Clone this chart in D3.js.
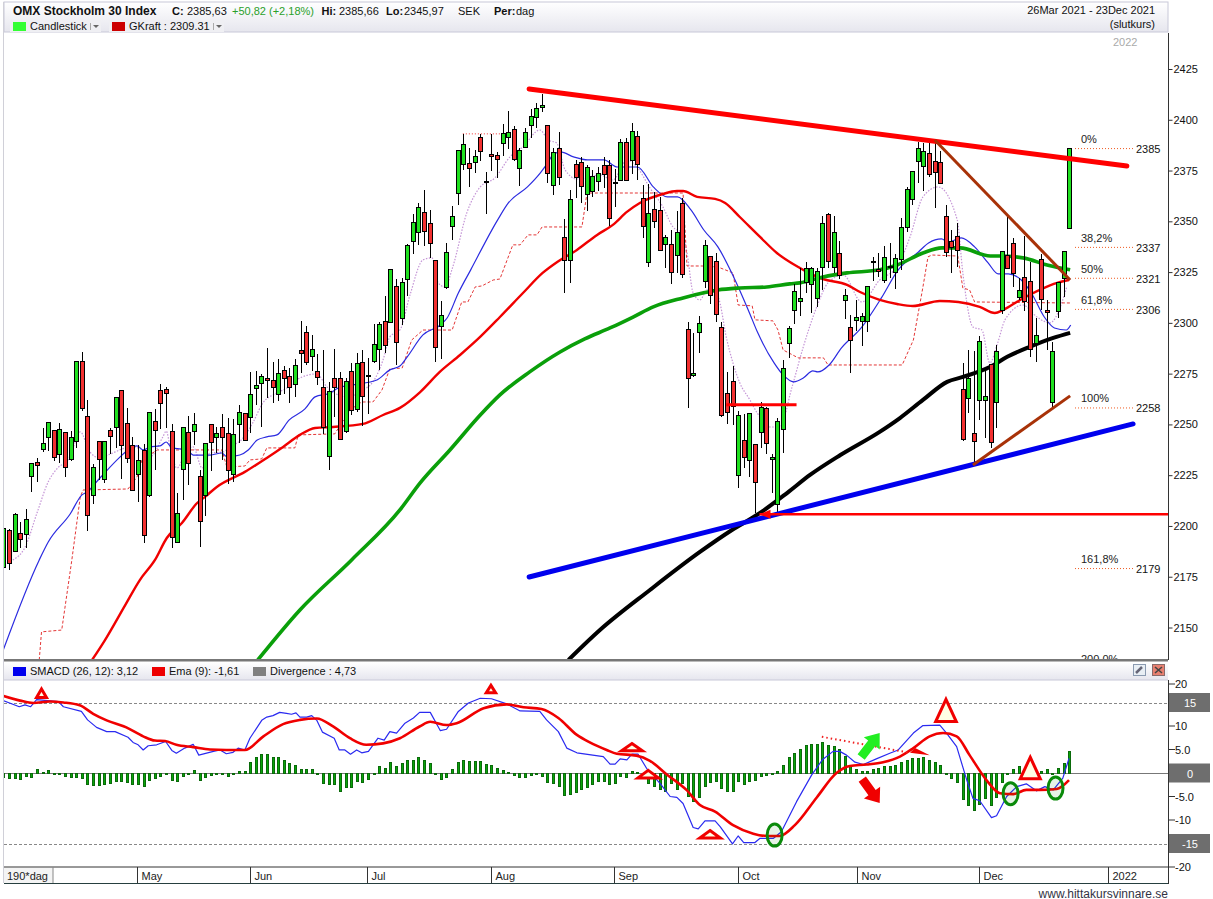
<!DOCTYPE html>
<html><head><meta charset="utf-8">
<script src="https://cdn.jsdelivr.net/npm/d3@7/dist/d3.min.js"></script>
<style>html,body{margin:0;padding:0;background:#fff}svg{display:block;font-family:"Liberation Sans",Arial,sans-serif}</style>
</head><body><svg id="c" width="1213" height="899"></svg>
<script>
const opens=[2179.7,2197.7,2187.6,2196.1,2195.6,2224.5,2231,2237.4,2243.3,2246.8,
2235,2245.8,2232.5,2241.4,2280.7,2253.7,2214.8,2241.4,2222.7,2246.8,
2248.3,2266.5,2250.2,2239.4,2225.1,2236.9,2214.8,2251.2,2266.5,2266.9,
2246.3,2191.7,2227.6,2245.8,2246.3,2224.1,2214.8,2249.7,2243.3,2248.3,
2245.3,2225.1,2249.7,2255.1,2253.2,2267.4,2269.9,2272.4,2271.4,2264.5,
2276.3,2273.3,2269.4,2286.1,2295,2283.2,2275.8,2267.9,2234,2272.4,
2272.4,2246.3,2275.8,2257.1,2280.2,2273.8,2280.9,2286.8,2300.6,2300.1,
2317.8,2302,2321.2,2339.9,2344.4,2354.2,2348.8,2330.6,2298.1,2317.3,
2347.3,2363.5,2377.8,2378.3,2378.8,2391.1,2369.5,2382.7,2382.2,2388.1,
2391.1,2395,2375.8,2386.2,2397,2400.9,2405.9,2397,2367.5,2385.7,
2341.9,2330.6,2377.8,2378.8,2363,2364.5,2369.4,2377.3,2377.3,2369,
2369.9,2388.6,2379.8,2391.6,2361.1,2329.6,2355.7,2355.2,2338.5,2338.5,
2333,2358.6,2296.6,2274,2295.2,2320.3,2332.6,2330.1,2297.6,2265.1,
2271,2224.8,2242,2232.2,2240,2246,2257.8,2232.7,2210.5,2247.4,
2289.7,2306,2310.4,2319.8,2318.8,2311.9,2327.1,2353.2,2327.1,2334,
2310.9,2297.6,2301.1,2300.6,2300.6,2330.1,2326.2,2320.7,2327.6,2324.7,
2331.1,2346.8,2360.6,2379.3,2376.8,2383.2,2379.3,2378.8,2352.2,2339.9,
2342.4,2267.1,2262.7,2245.5,2261.7,2261.7,2279.4,2260.7,2306,2333,
2339,2312.4,2322.2,2320.2,2289.7,2331.1,2306,2260.7,2305.5,2321.7,2346.3];
const closes=[2198.9,2181.3,2205.4,2193.2,2203,2230.5,2229.6,2240.4,2250.7,2233.5,
2247.3,2228.6,2243.3,2280.7,2257.6,2205,2228.6,2232.5,2241.4,2244.2,
2263,2239.4,2233,2217.3,2232,2195.1,2255.6,2246.8,2260.1,2265,
2194.1,2205.9,2248.3,2230.5,2249.7,2202,2240.4,2240.9,2245.3,2243.3,
2227.1,2244.8,2255.6,2241.9,2264.5,2268.9,2273.3,2271.4,2267.9,2274.8,
2272.4,2267.9,2278.8,2284.7,2280.2,2286.6,2272.9,2248.3,2266,2267.9,
2242.3,2270.9,2256.6,2279.7,2263.5,2273.3,2289.3,2299.1,2288.8,2326.1,
2290.2,2319.8,2338,2349.3,2356.7,2344.8,2338.9,2287.8,2303.5,2334.5,
2352.2,2384.7,2387.7,2375.8,2381.7,2384.2,2369.5,2381.8,2380.3,2393.1,
2393.6,2380.3,2384.7,2393.6,2401.4,2405.4,2406.8,2373.4,2383.7,2371.4,
2330.6,2360.6,2371.4,2367,2376.3,2371.9,2373.4,2372.9,2351.2,2369,
2388.6,2369.9,2394,2377.8,2347.3,2353.7,2349.8,2335.5,2341.9,2324.7,
2344.4,2323.7,2272.5,2275,2299.6,2338,2313.4,2304,2254.3,2255.8,
2258.8,2254.3,2233.7,2255.3,2221.4,2258.3,2240.5,2233.7,2251.4,2277.4,
2297.1,2315.3,2311.9,2326.6,2326.6,2325.2,2348.8,2330.1,2344.4,2323.2,
2313.4,2291.2,2302.5,2303,2317.8,2330.1,2325.2,2332.1,2327.6,2331.6,
2346.8,2365.5,2374.4,2385.7,2384.2,2372.9,2373.9,2368.5,2334.5,2337,
2335.5,2242.5,2272.5,2241.5,2290.7,2263.7,2241,2285.8,2335,2326.6,
2324.2,2315.8,2310.4,2286.8,2293.7,2311.4,2305,2285.8,2319.8,2335,2385.7];
const highs=[2199.4,2198,2205.9,2201.8,2207.9,2230.5,2233,2247.8,2250.7,2246.8,
2250.5,2245.8,2246.4,2280.7,2285.3,2261.7,2230.2,2241.4,2241.4,2247.8,
2263,2266.5,2257.8,2243.3,2239.6,2240,2255.6,2257.1,2269.4,2268.3,
2249.7,2215.8,2248.6,2253.7,2255.1,2227.1,2240.4,2249.7,2248.3,2254.6,
2252.7,2252.2,2259.2,2255.1,2275.3,2275.8,2274.3,2287.1,2280.2,2281.7,
2278.3,2277.3,2281.7,2300.6,2297.9,2293.7,2284.2,2286.1,2270.4,2286.6,
2275.6,2272.4,2279.7,2284.7,2286.3,2282.2,2299.1,2300,2312.9,2326.1,
2321.2,2321.7,2338.5,2353.2,2358.6,2365,2355.2,2330.6,2310.4,2338.9,
2357.1,2384.7,2392.6,2385.7,2384.7,2392.6,2373.9,2392.6,2383.7,2397.5,
2403.9,2396.5,2385.7,2395.5,2404.9,2407.8,2412.3,2397,2385.7,2393.6,
2350.8,2365,2379.8,2381.3,2377.3,2374.9,2376.3,2381.3,2379.8,2375.4,
2390.1,2390.6,2398,2394,2367.5,2368,2364,2361.6,2342.9,2345.3,
2354.7,2361.1,2300,2294.7,2303,2340.4,2332.6,2334,2300,2275.5,
2278.4,2256.3,2254.8,2255.3,2240,2260.7,2258.3,2235.1,2252.8,2281.4,
2298.1,2318.8,2326.6,2329.6,2327.1,2326.6,2352.2,2353.7,2352.2,2339.9,
2316.3,2303.5,2310.9,2304.5,2317.8,2332.1,2334,2337.5,2338.9,2333.5,
2351.2,2366.5,2374.4,2388.6,2388.1,2388.1,2390.1,2384.2,2357.6,2345.3,
2348.8,2279.9,2286.3,2285.8,2293.2,2276.5,2279.4,2288.8,2335,2351.7,
2341.4,2321.7,2342.4,2329.6,2302,2333.5,2310.9,2290.2,2319.8,2335,2385.7];
const lows=[2178,2178,2187.1,2188.7,2188.7,2216.6,2221.5,2236.3,2236.8,2231.9,
2230.9,2223.6,2231.9,2238.2,2256.5,2197.4,2210.5,2222.3,2221,2235,
2237.9,2223,2230.9,2217.3,2211.7,2191.5,2213.8,2227.3,2247.6,2247.8,
2188.7,2191.7,2212.5,2219.9,2239.4,2189.5,2204.8,2226.9,2235.5,2232.2,
2220.4,2221.5,2240.4,2241.4,2245.3,2259.2,2248.6,2262.5,2260.1,2261.4,
2264.5,2260.4,2263.3,2274.8,2278.9,2276.1,2269.1,2245,2227.3,2253.5,
2242.3,2245.3,2254.3,2256,2248.9,2254.8,2279.9,2276.5,2284.8,2300.1,
2278.9,2298.6,2312.9,2333.5,2338,2337.5,2331.6,2280.4,2281.9,2316.3,
2340.4,2357.6,2374.9,2366.5,2373.4,2379.3,2353.2,2374.4,2370.9,2381.8,
2385.2,2379.3,2367,2385.7,2390.6,2395.5,2403.4,2368.5,2362.6,2367.5,
2314.3,2319.3,2361.1,2358.6,2354.7,2361.6,2364.5,2366,2347.3,2356.7,
2369.9,2369.9,2372.9,2369.9,2341.4,2327.1,2346.3,2335.5,2326.6,2318.8,
2324.2,2321.7,2257.8,2273,2284.8,2316.8,2308.9,2300.1,2253.3,2249.9,
2249.4,2218.4,2228.2,2223.8,2206.1,2238.1,2235.1,2216,2206.1,2235.6,
2282.4,2299.1,2303,2314.3,2304.5,2307.5,2315.8,2326.6,2324.2,2321.2,
2301.5,2275,2295.6,2288.3,2295.2,2320.2,2322.2,2319.3,2321.7,2316.3,
2325.7,2344.4,2357.6,2368.5,2364.5,2371.4,2356.2,2368.5,2332.1,2324.2,
2327.1,2241.5,2255.3,2230.7,2251.9,2243,2238.1,2247.9,2304,2326.6,
2317.3,2310.9,2305.5,2282.9,2280.4,2306,2286.3,2257.8,2302,2312.4,2346.3];
const maFast=[[0,2138.7],[6.4,2183],[8,2191.8],[11.9,2205.6],[14,2215],[14.9,2216.4],[17.2,2223.3],[20.8,2233.7],[22.2,2237.1],[23.8,2239.1],[24.9,2237.1],[26.1,2238.6],[27.9,2239.1],[29,2241],[30,2238.1],[32.7,2237.1],[33.8,2234.6],[36.8,2234.6],[38.9,2235.6],[39.8,2233.7],[42.1,2234.6],[43.6,2237.1],[45.2,2242],[46.9,2243.5],[48.7,2244.5],[50.9,2251.9],[53.7,2257.3],[55.5,2263.2],[58.2,2265.1],[59.6,2267.6],[62.2,2269.1],[66.5,2271.5],[68.8,2276.5],[70.6,2278.4],[71.9,2282.9],[74.7,2293.7],[77.8,2298.6],[79,2302],[81,2314.3],[83.2,2325.7],[88,2350.3],[89.9,2358.6],[93.3,2366.5],[95.6,2373.4],[96.9,2378.3],[97.8,2382.2],[99.2,2383.7],[101.5,2381.3],[104,2379.8],[106.9,2379.8],[109.3,2376.3],[112.9,2376.3],[115.7,2366.5],[118.2,2361.6],[120,2361.6],[122.4,2355.2],[124.7,2345.3],[127.2,2337],[130,2322.2],[132.6,2306],[134.3,2294.7],[137.2,2279.9],[138.8,2274],[140.7,2270.6],[142.4,2272.5],[144.1,2276],[145,2275.5],[147,2278.9],[149.2,2287.3],[152.7,2297.1],[156.3,2311.9],[159.3,2325.7],[162.9,2334.5],[164.7,2338.9],[167,2340.9],[168.2,2339.4],[170.5,2341.4],[172.9,2337],[175.3,2329.1],[177.1,2323.7],[178.9,2323.7],[181.2,2320.7],[183,2314.3],[185.3,2302.5],[187.1,2297.1],[189.2,2296.1],[190,2298.6]];
const maDotted=[[1.7,2183],[3.9,2189.4],[6,2206.1],[8,2221.4],[9.7,2228.3],[11.5,2232.2],[12.8,2241],[13.7,2246],[15.4,2236.1],[17.2,2233.2],[18.6,2234.6],[22.9,2238.6],[24.9,2237.1],[26.1,2233.7],[28.4,2243.5],[29,2246.4],[29.7,2238.6],[30.9,2228.2],[32.7,2237.1],[33.8,2238.6],[35.4,2228.2],[36.8,2235.6],[39.1,2236.1],[40.4,2238.6],[42.7,2243],[44.4,2250.4],[46.2,2260.2],[48.7,2265.1],[50.5,2267.6],[52.8,2272.5],[55.8,2274.5],[57.6,2268.1],[61.2,2263.2],[64,2266.6],[65.8,2270.6],[67.6,2281.4],[68.8,2292.7],[70.6,2296.1],[72.4,2313.4],[74.7,2330.6],[76.3,2331.6],[77.4,2319.3],[78.6,2317.3],[80,2327.1],[82.5,2353.7],[84.9,2366.5],[87.5,2370.9],[90.2,2381.3],[92.5,2386.2],[95.5,2394.5],[97,2389.6],[98.5,2388.1],[100,2374.9],[102.1,2370.4],[103.5,2370.9],[106.2,2372.4],[108.5,2369.9],[111,2379.8],[112.8,2376.3],[115.1,2366],[117.4,2356.7],[119.2,2346.8],[120.8,2343.9],[121.7,2334],[122.8,2314.3],[124,2310.9],[125.3,2315.8],[127.2,2312.4],[128.8,2291.2],[131.1,2270.1],[132.9,2261.7],[134.2,2255.3],[136.5,2248.4],[138.2,2248.4],[140.4,2268.1],[142.4,2287.8],[144.8,2307.5],[146.8,2319.3],[149.5,2323.2],[152.8,2309.9],[156,2320.7],[159.1,2327.1],[161.4,2341.9],[163.7,2361.6],[166.4,2366.5],[169.8,2350.3],[170.8,2324.2],[172.6,2297.6],[174.2,2296.1],[175.6,2279.9],[177,2289.7],[178.3,2301.1],[181.5,2308.4],[184,2302.5],[186.3,2299.6],[188.4,2309.4],[189.3,2317.3]];
const stopLine=[[6.4,2133.8],[6.8,2147.6],[10.4,2148.5],[12.2,2183],[13.7,2214],[14.2,2217.4],[22.2,2217.9],[23.8,2223.8],[24.7,2232.2],[27.4,2237.1],[38.9,2237.1],[39.8,2228.7],[43,2229.2],[43.9,2232.2],[46,2232.7],[46.9,2238.1],[51.9,2238.1],[52.5,2244.5],[59,2245],[61.7,2256.8],[63.8,2260.7],[65.8,2260.7],[67.4,2266.6],[68.8,2277],[71,2277.4],[72.7,2291.2],[74.7,2296.1],[79.9,2296.1],[81.6,2309.9],[82.7,2309.9],[84,2317.3],[85.2,2317.8],[87.2,2320.7],[88.4,2321.2],[90.7,2338],[92,2338],[93.4,2342.9],[95,2342.9],[95.9,2346.8],[103,2346.8],[103.9,2363.5],[121,2363.5],[121.7,2327.6],[124.4,2327.6],[127.2,2327.1],[129.9,2324.2],[130.8,2308.4],[133.3,2308],[133.8,2301.1],[137,2300.6],[137.9,2296.1],[138.8,2286.3],[141.5,2282.4],[146,2282.4],[146.8,2278.9],[160,2278.9],[162,2291.2],[163.7,2317.3],[164.6,2332.1],[165.3,2333],[169.9,2332.5],[170.8,2316.8],[172,2315.8],[172.9,2309.9],[189.9,2309.4]];
const maRed=[[15.8,2133.8],[18.1,2143.6],[21.7,2160.8],[24.3,2173.1],[27,2183],[29.1,2193.8],[31.8,2201.2],[34.5,2211],[35.9,2214],[38,2218.9],[43,2226.3],[46.9,2233.2],[49.8,2238.6],[52.8,2244.5],[55.5,2247.9],[58.7,2248.4],[64,2249.9],[67.6,2254.3],[70.6,2257.8],[74.2,2265.6],[77.7,2275.5],[81.3,2283.8],[84.5,2291.7],[88.4,2302.5],[92.5,2314.3],[96,2324.2],[98.6,2329.6],[102.1,2335.5],[105.7,2342.9],[108.5,2347.8],[111,2354.2],[113.3,2358.6],[117.4,2363],[119.9,2364.5],[121,2364.5],[123.5,2361.6],[126.7,2360.6],[128.5,2358.6],[131.1,2351.7],[134.7,2341.9],[137.7,2334],[141.8,2326.6],[144.1,2323.2],[145.9,2321.2],[150.2,2318.3],[152.5,2314.8],[156,2310.9],[159.1,2308.9],[161.9,2307.9],[166.7,2310.4],[170,2309.9],[173.8,2307.5],[176.5,2304.5],[178,2306],[181,2310.9],[187.6,2319.3],[189.7,2320.7]];
const maGreen=[[45.3,2133.8],[52.8,2158.4],[62,2183],[70.6,2207.6],[74.2,2220.9],[79.5,2237.1],[84.9,2254.3],[88.4,2264.2],[93.7,2275.5],[99.1,2285.3],[103.5,2291.7],[108,2297.1],[112.1,2302.5],[115.7,2307.5],[121,2311.9],[124.5,2314.3],[127.2,2315.8],[131.1,2316.8],[135.9,2317.3],[140,2318.8],[141.8,2319.3],[145.9,2322.2],[150.2,2324.2],[156,2325.7],[159.1,2328.1],[163.7,2334],[167.1,2336.5],[170.3,2336.5],[175.7,2332.5],[177.4,2332.5],[181.5,2331.6],[185.8,2328.1],[189.9,2325.7]];
const maBlack=[[100.6,2133.8],[106.2,2148.5],[115.1,2168.2],[124,2186.9],[129.7,2197.7],[134.7,2206.1],[139.5,2215.9],[143.6,2224.8],[149,2234.6],[156,2246],[159.6,2252.8],[163.7,2261.7],[168,2270.6],[170.8,2273],[175.6,2277.9],[178.7,2282.9],[182.7,2287.8],[186.9,2292.2],[189.9,2294.7]];
const trendRed=[[93.6,2414.7],[200,2376.8]];
const trendBlue=[[93.6,2174.6],[201.1,2249.9]];
const trendBrownA=[[165.8,2389.6],[189.9,2320.7]];
const trendBrownB=[[172.6,2229.7],[189.9,2263.7]];
const supportLine=[[134.6,2205.5],[207.4,2205.5]];
const shortRedLine=[[128.7,2259.3],[141.2,2259.3]];
const topDotted=[[81.8,2392.6],[88.5,2392.6]];
const fibLevels=[["0%",2385.6,"2385"],["38,2%",2337,"2337"],["50%",2321.8,"2321"],["61,8%",2306.5,"2306"],["100%",2258,"2258"],["161,8%",2179,"2179"],["200,0%",2130,""]];
const priceTicks=[2425,2400,2375,2350,2325,2300,2275,2250,2225,2200,2175,2150];
const divergence=[-.8,-1.1,-1.1,-1.3,-.7,-.9,.8,.3,.6,0,
.1,-.6,-.9,-.9,-1.1,-2.3,-2.5,-2.6,-2.3,-2.1,
-1.7,-1.8,-1.9,-2.3,-2.3,-2.8,-1.5,-1.1,-.6,0,
-1.5,-1.8,-.7,-.2,.7,-1.5,-.9,-.5,0,0,
-.6,-.3,.5,.4,2.4,3.3,4.1,4.1,3.5,3.3,
2.7,2.1,1.8,.8,.9,.8,.1,-2.1,-2.3,-2.3,
-3.8,-3,-3,-1.8,-1.9,-1.3,0,1.4,1,2.3,
1.4,2.2,2.7,2.8,3.3,2.7,2.2,-.2,-1.3,-.9,
.9,2.4,2.8,2.6,2.6,2.5,2,1.6,1.1,.7,
.3,-.4,-.9,-.9,-.5,-.1,-.6,-1.9,-2.1,-2.8,
-4.6,-4.4,-4,-3.3,-2.9,-2.3,-1.8,-1.7,-2.3,-2.1,
-.6,-.9,.5,.3,-.1,-2.1,-2.8,-3.4,-3.8,-2.1,
-3.4,-2.1,-4.9,-6,-5.1,-2.8,-1.9,-1.7,-3.1,-3.8,
-3.8,-1.7,-2.3,-1.7,-1.4,-.6,-.4,-.3,.5,1.8,
3.3,4.3,5.1,6,6.1,6.1,6.5,6,5.8,5.2,
3.6,1.7,.9,.5,.5,.9,1.1,1.4,1.5,1.6,
2.3,2.8,3.2,3.2,3.5,2.8,2.4,1.8,0,-1.1,
-2,-5.5,-6.8,-7.9,-6.5,-5.4,-6.8,-5.1,-2,-.2,
.9,1.4,.3,.3,.5,.5,.8,0,1.1,2.2,4.73];
const smacd=[[0,15.4],[2.85,14.1],[3.86,14.5],[4.87,14.1],[5.93,15.6],[9.8,15.2],[10.7,14.1],[13.9,13.1],[15,11.3],[16.6,9.7],[18.4,8.8],[19.9,8.8],[22.2,7.6],[23.1,6.5],[24,6],[24.9,4.9],[25.8,5.8],[27.3,6],[28.9,6.7],[30,4.8],[30.8,4.2],[32.3,5.3],[33.8,6.1],[34.8,3.8],[37.4,4.6],[38.6,4.9],[39.7,4.1],[40.9,4.4],[41.8,5.3],[43,4.9],[43.9,7.4],[46,11.2],[46.9,11.9],[48,12.2],[49.2,12.9],[50.4,12.7],[51.3,12.5],[52.1,12.8],[52.8,11.9],[54,11.9],[54.9,12.2],[55.8,11.2],[56.8,8.7],[58.9,7.4],[59.8,4.9],[60.8,4.9],[61.8,4],[62.9,4.9],[63.8,4.3],[65,4.6],[66.7,7.4],[67.8,7],[68.8,8.8],[70,8.5],[71.5,10.6],[73,11.7],[74.1,12.9],[76,12.9],[77.8,9],[78.9,9.3],[81,13.1],[82.8,14.9],[84.9,15.9],[86.9,15.8],[89.6,14.7],[92,13.2],[95.5,13.1],[96.7,11.3],[98.8,8.8],[100.3,5.3],[102.1,4.3],[106.8,3.5],[108,1.9],[108.9,1.9],[109.8,3],[111,2.8],[111.9,4],[113,4],[114.5,1],[116.9,-2.2],[118.7,-5],[119.9,-5.2],[121,-6.5],[122.8,-11.6],[123.7,-11.9],[124.9,-10.2],[126.7,-10.2],[127.6,-11.4],[129.8,-15.1],[130.8,-13.4],[131.8,-14.8],[133.8,-14.8],[134.7,-13.9],[137.1,-13.9],[138.5,-12.5],[141.2,-6.1],[143.9,-.4],[145.8,2.8],[147.7,4.6],[148.9,4.6],[150.1,3.8],[151.6,2.3],[153.1,1.8],[155.4,3],[157.8,4.2],[159.3,4.9],[162,8.5],[163.7,10.1],[166.7,10.2],[167.9,8.5],[169.7,5.6],[171.5,-1.5],[172.6,-5.4],[173.8,-5.9],[175.9,-9.5],[176.8,-9.1],[178.6,-5],[180.4,-2.9],[182.1,-2.3],[183.9,-3.8],[185.4,-2.9],[186.9,-3.6],[188.6,-1.1],[189.7,3.12]];
const ema=[[0,16.4],[3,15.4],[5.3,14.9],[8.3,15.2],[10.7,15],[13.6,14.4],[16,12.6],[18.4,11.2],[21.9,9.7],[24.9,7.8],[27,6.9],[28.8,6.8],[30.8,6],[33.8,5.5],[36.8,5],[39.7,4.9],[43,4.9],[46.3,7.8],[49.8,10.4],[52.8,11.3],[55.8,11.6],[58.7,9.9],[61.7,7.4],[64.6,6],[67.6,6.3],[70.6,7.4],[74.1,9.9],[76,10.9],[78.9,10.2],[80.7,10.6],[85.5,13.8],[89.6,14.6],[92.6,14],[95.8,13.6],[98.8,11.7],[102.1,8.1],[104.4,6.5],[107.4,4.9],[109.2,4.1],[112.7,3.7],[115.1,2.6],[118.1,-.3],[121.6,-3.6],[124,-6.8],[126.7,-8.2],[129.9,-11.1],[133.5,-12.9],[135.9,-13.4],[138.2,-13.4],[140.9,-11.1],[144.8,-5.2],[148.3,0],[150.7,1.5],[153.7,1.8],[156.6,2.3],[159.6,3.5],[162,5.3],[164.9,7.8],[167.3,8.5],[169.7,7.8],[172,3.8],[175,-1.5],[177.4,-4.3],[179.8,-4.5],[182.1,-3.6],[184.5,-3.6],[187.5,-3.4],[189.7,-1.5]];
const triangles=[[6.8,18.6,15.8,1.15],[86.8,19.4,16.8,1.1],[111.9,7,4.5,2.1],[114.8,1.3,-1.3,2.1],[125.8,-11.5,-14.1,2.1],[167.8,16.4,10.7,2.1],[182.8,4.1,-1.5,2.05]];
const circles=[[137.3,-13.2],[179.3,-4.4],[187.3,-3.2]];
const dottedTrend=[[145.7,7.7],[161.4,4.3]];
const dottedHead=[[161.4,4.3],[164.9,3.8],[162.3,5.3]];
const greenArrow=[[152.7,3.4],[156,8.5]];
const redArrow=[[152.9,-1.3],[156,-6.4]];
const monthLabels=[["May",23.8],["Jun",44],["Jul",64.8],["Aug",87],["Sep",108.9],["Oct",131],["Nov",152.1],["Dec",174],["2022",197]];
const smacdTicks=[[20,"20"],[10,"10"],[5,"5.0"],[-5,"-5.0"],[-10,"-10"],[-20,"-20"]];
const smacdBoxes=[[15,"15"],[0,"0"],[-15,"-15"]];

const svg=d3.select("#c");
const FS=11;
const x=d3.scaleLinear().domain([0,190]).range([3.3,1069.2]);
const xp=d3.scaleLinear().domain([0,190]).range([3.3,1070.7]);
const y=d3.scaleLinear().domain([2425,2150]).range([68,627]);
const yAxisScale=d3.scaleLinear().domain([2425,2150]).range([69,627.5]);
const ym=d3.scaleLinear().domain([15,-15]).range([702.5,843.5]);
const defs=svg.append("defs");
const grad=defs.append("linearGradient").attr("id","hdr").attr("x1",0).attr("y1",0).attr("x2",0).attr("y2",1);
grad.append("stop").attr("offset",0).attr("stop-color","#ffffff");
grad.append("stop").attr("offset",1).attr("stop-color","#e6e6ee");
defs.append("clipPath").attr("id","main").append("rect").attr("x",4).attr("y",33).attr("width",1164).attr("height",627);
defs.append("clipPath").attr("id","sub").append("rect").attr("x",4).attr("y",680).attr("width",1164).attr("height",187);

const main=svg.append("g").attr("clip-path","url(#main)");
const line=(xs,ys,c)=>d3.line().x(d=>xs(d[0])).y(d=>ys(d[1])).curve(c||d3.curveLinear);
function path(g,data,gen,stroke,w,dash,op){const p=g.append("path").datum(data).attr("d",gen).attr("fill","none").attr("stroke",stroke).attr("stroke-width",w).attr("stroke-linejoin","round");if(dash)p.attr("stroke-dasharray",dash);if(op)p.attr("opacity",op);return p;}

const lin=line(xp,y), mono=line(xp,y,d3.curveMonotoneX);
path(main,maDotted,mono,"#b070c8",1.2,"1.5 1.5",.75);
path(main,stopLine,lin,"#e02020",1,"3 2",.9);
path(main,topDotted,lin,"#f03030",1,"1 2");
path(main,maFast,mono,"#2b2be0",1.2);
path(main,maRed,mono,"#f00000",2.4);
path(main,maGreen,mono,"#0a9f0a",3.6);
path(main,maBlack,mono,"#000",4);

const idx=d3.range(opens.length);
const cg=main.append("g").attr("shape-rendering","crispEdges");
cg.selectAll("line").data(idx).join("line")
 .attr("x1",i=>Math.round(x(i))+.5).attr("x2",i=>Math.round(x(i))+.5)
 .attr("y1",i=>y(highs[i])).attr("y2",i=>y(lows[i])).attr("stroke","#000");
cg.selectAll("rect").data(idx).join("rect")
 .attr("x",i=>Math.round(x(i))-2+.5).attr("width",4)
 .attr("y",i=>Math.round(y(Math.max(opens[i],closes[i])))+.5)
 .attr("height",i=>Math.max(1,Math.round(y(Math.min(opens[i],closes[i])))-Math.round(y(Math.max(opens[i],closes[i])))))
 .attr("fill",i=>closes[i]>=opens[i]?"#20e020":"#f23030").attr("stroke","#000");

path(main,trendRed,lin,"#ff0000",5).attr("stroke-linecap","round");
path(main,trendBlue,lin,"#0000ee",5).attr("stroke-linecap","round");
path(main,trendBrownA,lin,"#a83208",3);
path(main,trendBrownB,lin,"#a83208",3);
path(main,shortRedLine,lin,"#ff0000",3);
path(main,supportLine,lin,"#ff0000",2.4);
main.append("path").datum(supportLine).attr("fill","#ff0000")
 .attr("d",d=>{const a=xp(d[0][0]),b=y(d[0][1]);return d3.line()([[a,b],[a+11,b-4.5],[a+11,b+4.5]]);});

const fib=main.append("g").selectAll("g").data(fibLevels).join("g");
fib.filter(d=>d[2]!=="").append("line").attr("x1",1075).attr("x2",1135).attr("y1",d=>y(d[1])+.5).attr("y2",d=>y(d[1])+.5)
 .attr("stroke","#f05a20").attr("stroke-dasharray","1 2");
fib.append("text").attr("x",1081).attr("y",d=>y(d[1])-5).attr("font-size",FS).attr("fill","#222").text(d=>d[0]);
fib.append("text").attr("x",1136).attr("y",d=>y(d[1])+5).attr("font-size",FS).attr("fill","#111").text(d=>d[2]);
main.append("text").attr("x",1113).attr("y",46).attr("font-size",FS).attr("fill","#aaa").text("2022");

svg.append("rect").attr("x",4).attr("y",2).attr("width",1164).attr("height",30).attr("fill","url(#hdr)").attr("stroke","#c8c8d8");
function txt(t,xp_,yp,o={}){return svg.append("text").attr("x",xp_).attr("y",yp).attr("font-size",o.s||FS).attr("font-weight",o.b?"bold":null).attr("fill",o.c||"#111").attr("text-anchor",o.a||"start").text(t);}
txt("OMX Stockholm 30 Index",13,15,{b:1,s:12});
txt("C:",172,15,{b:1});txt("2385,63",187,15);txt("+50,82 (+2,18%)",232,15,{c:"#2aa02a"});
txt("Hi:",321.5,15,{b:1});txt("2385,66",339,15);txt("Lo:",386,15,{b:1});txt("2345,97",404,15);
txt("SEK",458,15);txt("Per:",494,15,{b:1});txt("dag",516,15);
txt("26Mar 2021 - 23Dec 2021",1155,14,{a:"end"});txt("(slutkurs)",1155,28,{a:"end"});
svg.append("rect").attr("x",10).attr("y",20).attr("width",91).attr("height",12).attr("fill","#efeff3");
svg.append("rect").attr("x",109).attr("y",20).attr("width",115).attr("height",12).attr("fill","#efeff3");
svg.append("rect").attr("x",13).attr("y",22).attr("width",13).attr("height",9).attr("fill","#33ff33");
txt("Candlestick",30,30);
svg.append("rect").attr("x",112).attr("y",22).attr("width",13).attr("height",9).attr("fill","#cc0000");
txt("GKraft : 2309.31",129,30);
[93,216].forEach(a=>{svg.append("path").attr("d",d3.line()([[a,25],[a+6,25],[a+3,28]])).attr("fill","#666");
 svg.append("line").attr("x1",a-2.5).attr("x2",a-2.5).attr("y1",23).attr("y2",30).attr("stroke","#aaa");});

svg.append("line").attr("x1",3.5).attr("x2",3.5).attr("y1",2).attr("y2",883).attr("stroke","#d0d0d8");
const axMain=svg.append("g").attr("transform","translate(1168.5,0)")
 .call(d3.axisRight(yAxisScale).tickValues(priceTicks).tickSize(4).tickPadding(1).tickFormat(d3.format("d")));
axMain.select(".domain").attr("d","M0,33V660").attr("stroke","#333");
axMain.selectAll("text").attr("font-size",FS).attr("font-family","Liberation Sans").attr("fill","#111");
axMain.selectAll("line").attr("stroke","#333");

svg.append("rect").attr("x",4).attr("y",659).attr("width",1164).attr("height",2.5).attr("fill","#777");
svg.append("rect").attr("x",4).attr("y",662).attr("width",1164).attr("height",18).attr("fill","url(#hdr)");
svg.append("line").attr("x1",4).attr("x2",1168).attr("y1",680).attr("y2",680).attr("stroke","#c8c8d8");
svg.append("rect").attr("x",13).attr("y",667).attr("width",13).attr("height",9).attr("fill","#0000ee");
txt("SMACD (26, 12): 3,12",30,675);
svg.append("rect").attr("x",152).attr("y",667).attr("width",13).attr("height",9).attr("fill","#ee0000");
txt("Ema (9): -1,61",169,675);
svg.append("rect").attr("x",253).attr("y",667).attr("width",13).attr("height",9).attr("fill","#808080");
txt("Divergence : 4,73",270,675);
svg.append("rect").attr("x",1133.5).attr("y",664.5).attr("width",12).attr("height",11).attr("fill","#e8eef4").attr("stroke","#8a9ab0");
svg.append("path").attr("d",d3.line()([[1136,673],[1142,667]])).attr("stroke","#667").attr("stroke-width",2.5);
svg.append("rect").attr("x",1152.5).attr("y",664.5).attr("width",12).attr("height",11).attr("fill","#e88070").attr("stroke","#8a6a6a");
svg.append("path").attr("d","M1155,667 L1162,673 M1162,667 L1155,673").attr("stroke","#444").attr("stroke-width",1.6);

const sub=svg.append("g").attr("clip-path","url(#sub)");
[15,-15].forEach(v=>sub.append("line").attr("x1",4).attr("x2",1168).attr("y1",Math.round(ym(v))+.5).attr("y2",Math.round(ym(v))+.5).attr("stroke","#888").attr("stroke-dasharray","3 2"));
sub.append("line").attr("x1",4).attr("x2",1168).attr("y1",ym(0)).attr("y2",ym(0)).attr("stroke","#777").attr("shape-rendering","crispEdges");
sub.append("g").attr("shape-rendering","crispEdges").selectAll("rect").data(divergence).join("rect")
 .attr("x",(d,i)=>Math.round(x(i))-1+.5).attr("width",2)
 .attr("y",d=>Math.round(Math.min(ym(d),ym(0)))+.5).attr("height",d=>Math.max(0.5,Math.round(Math.abs(ym(d)-ym(0)))))
 .attr("fill","#0aa50a").attr("stroke","#0a6a0a");
const linS=line(xp,ym), monoS=line(xp,ym,d3.curveMonotoneX);
path(sub,smacd,linS,"#2a2af0",1.2);
path(sub,ema,monoS,"#f00000",2.6);
path(sub,dottedTrend,linS,"#f02020",2,"1.5 3");
sub.append("path").datum(dottedHead).attr("d",linS).attr("fill","#f00000");
sub.selectAll("path.tri").data(triangles).join("path").attr("class","tri")
 .attr("d",d=>d3.line()([[xp(d[0]),ym(d[1])+3.5],[xp(d[0]+d[3])-1.5,ym(d[2])-1.2],[xp(d[0]-d[3])+1.5,ym(d[2])-1.2]])+"Z")
 .attr("fill","#ffffe4").attr("stroke","#f00000").attr("stroke-width",3).attr("stroke-linejoin","miter");
sub.selectAll("ellipse").data(circles).join("ellipse")
 .attr("cx",d=>xp(d[0])).attr("cy",d=>ym(d[1])).attr("rx",7.5).attr("ry",11)
 .attr("fill","#0a8a0a").attr("fill-opacity",.1).attr("stroke","#0a8a0a").attr("stroke-width",3);
function arrow(a,color){
 const p=[xp(a[0][0]),ym(a[0][1])],q=[xp(a[1][0]),ym(a[1][1])];
 const L=Math.hypot(q[0]-p[0],q[1]-p[1]),u=[(q[0]-p[0])/L,(q[1]-p[1])/L],n=[-u[1],u[0]];
 const at=(t,s)=>[p[0]+u[0]*t+n[0]*s,p[1]+u[1]*t+n[1]*s];
 const h=L-13;
 sub.append("path").attr("d",d3.line()([at(0,-4.5),at(h,-4.5),at(h,-10),at(L,0),at(h,10),at(h,4.5),at(0,4.5)])+"Z").attr("fill",color);
}
arrow(greenArrow,"#22ee22");arrow(redArrow,"#f00000");

svg.append("line").attr("x1",1168.5).attr("x2",1168.5).attr("y1",680).attr("y2",884).attr("stroke","#333");
smacdTicks.forEach(t=>{const yy=t[0]===20?684:ym(t[0]);
 svg.append("line").attr("x1",1168).attr("x2",1175).attr("y1",yy).attr("y2",yy).attr("stroke","#333");
 txt(t[1],1175,yy+4);});
smacdBoxes.forEach(t=>{svg.append("rect").attr("x",1169).attr("y",ym(t[0])-9.5).attr("width",41).attr("height",19).attr("fill","#6e6e6e");
 txt(t[1],1190,ym(t[0])+4.5,{c:"#fff",a:"middle"});});

svg.append("line").attr("x1",4).attr("x2",1168).attr("y1",867).attr("y2",867).attr("stroke","#333");
svg.append("line").attr("x1",4).attr("x2",1168).attr("y1",883.5).attr("y2",883.5).attr("stroke","#263f3f");
svg.append("rect").attr("x",4).attr("y",868).attr("width",49).attr("height",15).attr("fill","#f4f4f4");
svg.append("line").attr("x1",53).attr("x2",53).attr("y1",867).attr("y2",883).attr("stroke","#888");
txt("190*dag",7,880,{c:"#222"});
monthLabels.forEach(m=>{const xx=Math.round(x(m[1]))+.5;
 svg.append("line").attr("x1",xx).attr("x2",xx).attr("y1",867).attr("y2",883).attr("stroke","#333");
 txt(m[0],xx+4,880,{c:"#222"});});
txt("www.hittakursvinnare.se",1168,897.5,{a:"end",c:"#334",s:12});
</script></body></html>
